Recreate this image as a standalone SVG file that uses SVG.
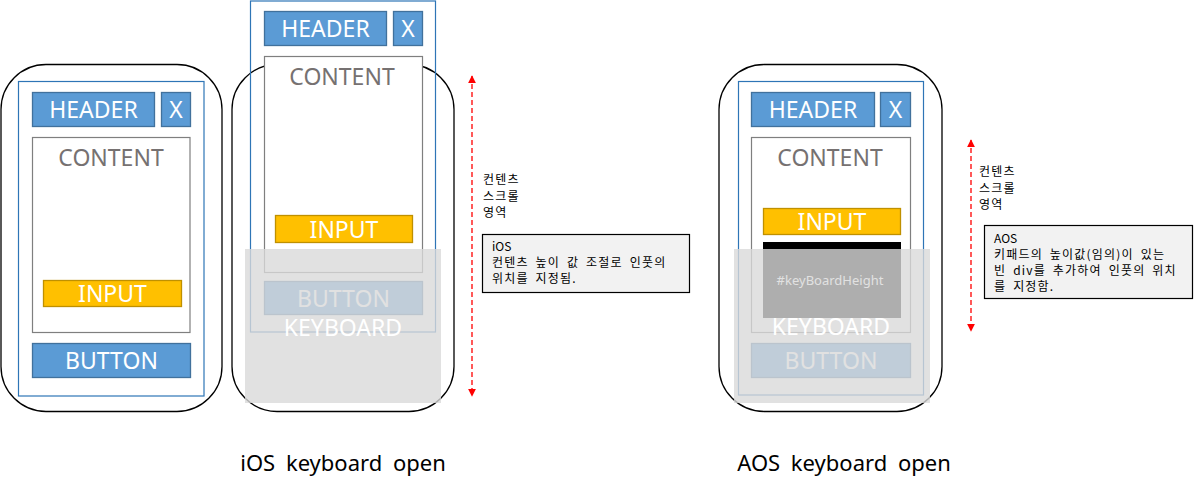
<svg xmlns="http://www.w3.org/2000/svg" width="1194" height="492" viewBox="0 0 1194 492">
<defs>
<style>
.phone{fill:none;stroke:#000;stroke-width:1.3}
.frame{fill:none;stroke:#2e75b6;stroke-width:1.2}
.hdr{fill:#5b9bd5;stroke:#41719c;stroke-width:1.3}
.cnt{fill:#fff;stroke:#7f7f7f;stroke-width:1.2}
.inp{fill:#ffc000;stroke:#bf9000;stroke-width:1.3}
.kb{fill:#d9d9d9;opacity:0.8}
.wt{font-family:"Noto Sans","Open Sans",sans-serif;font-size:23px;fill:#fff;text-anchor:middle}
.gt{font-family:"Noto Sans","Open Sans",sans-serif;font-size:23px;fill:#767171;text-anchor:middle}
.kr{font-family:"Noto Sans CJK KR","Noto Sans",sans-serif;font-size:12px;fill:#000;letter-spacing:1.2px;word-spacing:3px}
.lat{letter-spacing:0px}
.note{fill:#f2f2f2;stroke:#000;stroke-width:1.2}
.cap{font-family:"Noto Sans","Noto Sans CJK KR",sans-serif;font-size:22px;fill:#000;text-anchor:middle;word-spacing:5px}
.arr{stroke:#ff0000;stroke-width:1.3;stroke-dasharray:5 3;fill:none}
</style>
<marker id="ah" viewBox="0 0 10 10" refX="9" refY="5" markerWidth="8" markerHeight="8" markerUnits="userSpaceOnUse" orient="auto-start-reverse">
<path d="M0,0 L10,5 L0,10 z" fill="#ff0000"/>
</marker>
</defs>

<g id="phone-default">
<rect class="phone" x="1" y="64.5" width="221" height="347" rx="45" ry="45"/>
<rect class="frame" x="18.5" y="81.5" width="185.5" height="314.5"/>
<rect class="hdr" x="32.5" y="92.5" width="122" height="34"/>
<text class="wt" x="93.5" y="118">HEADER</text>
<rect class="hdr" x="161.5" y="92.5" width="29" height="34"/>
<text class="wt" x="176" y="118">X</text>
<rect class="cnt" x="32.5" y="137.5" width="157.5" height="195"/>
<text class="gt" x="111" y="166">CONTENT</text>
<rect class="inp" x="43.5" y="280.5" width="138" height="26"/>
<text class="wt" x="112.5" y="302">INPUT</text>
<rect class="hdr" x="32.5" y="343.5" width="158" height="34"/>
<text class="wt" x="111.5" y="369">BUTTON</text>
</g>

<g id="phone-ios">
<rect class="phone" x="232" y="64.5" width="222" height="347" rx="45" ry="45"/>
<rect class="frame" x="250.5" y="1" width="185" height="331"/>
<rect class="hdr" x="264.5" y="11.5" width="122" height="34"/>
<text class="wt" x="325.5" y="37">HEADER</text>
<rect class="hdr" x="393.5" y="11.5" width="29" height="34"/>
<text class="wt" x="408" y="37">X</text>
<rect class="cnt" x="264.5" y="56.5" width="158" height="216"/>
<text class="gt" x="342" y="85">CONTENT</text>
<rect class="inp" x="275.5" y="215.5" width="137" height="27"/>
<text class="wt" x="344" y="238">INPUT</text>
<rect class="hdr" x="264.5" y="281.5" width="158" height="33"/>
<text class="wt" x="343.5" y="307">BUTTON</text>
<rect class="kb" x="245" y="249" width="196" height="154"/>
<text class="wt" x="343" y="336">KEYBOARD</text>
</g>

<g id="phone-aos">
<rect class="phone" x="719" y="64.5" width="223" height="347" rx="45" ry="45"/>
<rect class="frame" x="738.5" y="81.5" width="185" height="313.5"/>
<rect class="hdr" x="751.5" y="92.5" width="123" height="34"/>
<text class="wt" x="813" y="118">HEADER</text>
<rect class="hdr" x="880.5" y="92.5" width="30" height="34"/>
<text class="wt" x="895.5" y="118">X</text>
<rect class="cnt" x="751.5" y="137.5" width="159" height="195"/>
<text class="gt" x="830" y="166">CONTENT</text>
<rect class="inp" x="763.5" y="208.5" width="137" height="26"/>
<text class="wt" x="832" y="230">INPUT</text>
<rect x="763" y="242" width="138" height="76" fill="#000"/>
<text x="830" y="285" font-family="Noto Sans,Open Sans,sans-serif" font-size="13" fill="#fff" text-anchor="middle">#keyBoardHeight</text>
<rect class="hdr" x="751.5" y="343.5" width="159" height="34"/>
<text class="wt" x="831" y="369">BUTTON</text>
<rect class="kb" x="734" y="249" width="196" height="154"/>
<text class="wt" x="831" y="335">KEYBOARD</text>
</g>

<g id="connectors">
<line class="arr" x1="472" y1="76" x2="472" y2="396" marker-start="url(#ah)" marker-end="url(#ah)"/>
<line class="arr" x1="971" y1="140" x2="971" y2="331" marker-start="url(#ah)" marker-end="url(#ah)"/>
</g>

<g id="label-ios-scroll">
<text class="kr" x="483" y="184">컨텐츠</text>
<text class="kr" x="483" y="201">스크롤</text>
<text class="kr" x="483" y="217">영역</text>
</g>

<g id="note-ios">
<rect class="note" x="482.5" y="234.5" width="207" height="58"/>
<text class="kr lat" x="492" y="251">iOS</text>
<text class="kr" x="492" y="267">컨텐츠 높이 값 조절로 인풋의</text>
<text class="kr" x="492" y="283">위치를 지정됨.</text>
</g>

<g id="label-aos-scroll">
<text class="kr" x="979" y="176">컨텐츠</text>
<text class="kr" x="979" y="193">스크롤</text>
<text class="kr" x="979" y="209">영역</text>
</g>

<g id="note-aos">
<rect class="note" x="984.5" y="225.5" width="208" height="73"/>
<text class="kr lat" x="994" y="243">AOS</text>
<text class="kr" x="994" y="259">키패드의 높이값(임의)이 있는</text>
<text class="kr" x="994" y="275">빈 div를 추가하여 인풋의 위치</text>
<text class="kr" x="994" y="291">를 지정함.</text>
</g>

<g id="captions">
<text class="cap" x="343" y="471">iOS keyboard open</text>
<text class="cap" x="844" y="471">AOS keyboard open</text>
</g>
</svg>
